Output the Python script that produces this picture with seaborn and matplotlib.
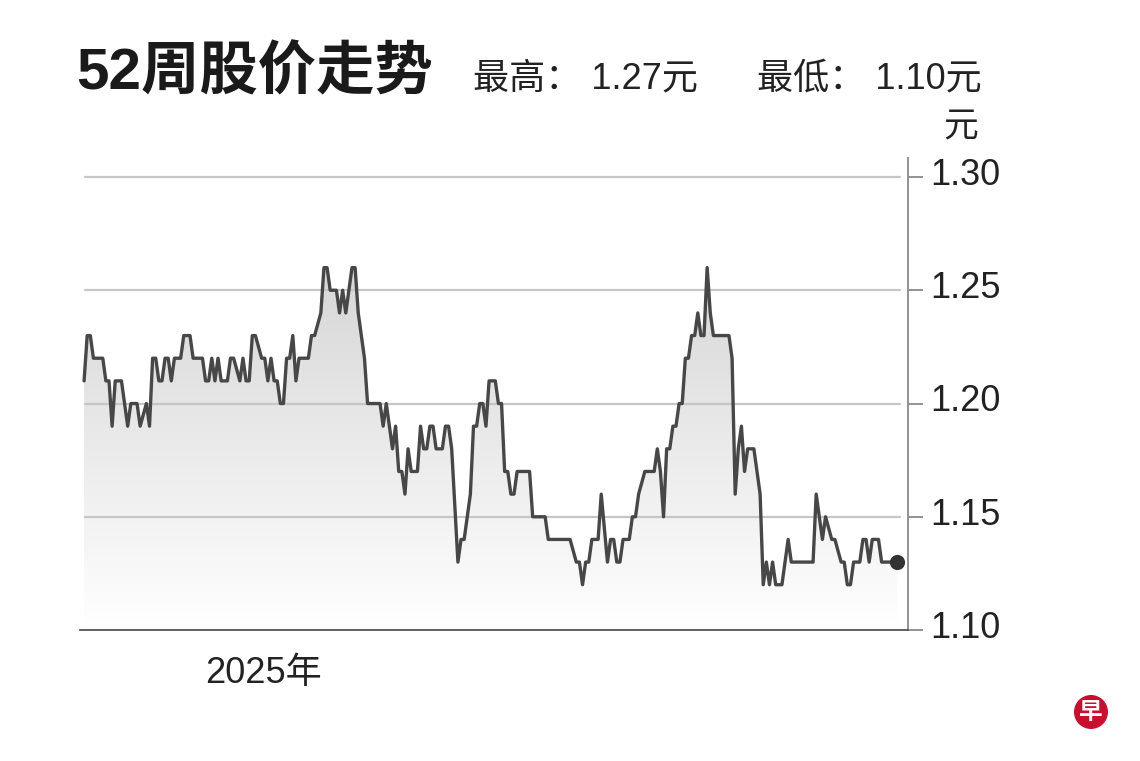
import matplotlib
matplotlib.use("Agg")
import matplotlib.pyplot as plt
import matplotlib.colors as mcolors
import matplotlib.patches as mpatches
import matplotlib.transforms as mtransforms
import numpy as np
import pandas as pd
import seaborn as sns

# session index (0 = 2024-10-21) and closing price, read at each turn of the line
trade_day = [
    0, 1, 2, 3, 6, 7, 8, 9, 10, 12,
    14, 15, 17, 18, 20, 21, 22, 23, 24, 25,
    26, 27, 28, 29, 31, 32, 34, 35, 38, 39,
    40, 41, 42, 43, 44, 46, 47, 48, 50, 51,
    52, 53, 54, 55, 57, 58, 59, 60, 61, 62,
    63, 64, 65, 66, 67, 68, 69, 72, 73, 74,
    76, 77, 78, 79, 81, 82, 83, 84, 86, 87,
    88, 89, 90, 91, 95, 96, 97, 99, 100, 101,
    102, 103, 104, 105, 107, 108, 109, 110, 111, 112,
    113, 115, 116, 117, 118, 120, 121, 122, 124, 125,
    126, 127, 128, 129, 130, 132, 133, 134, 135, 136,
    137, 138, 139, 143, 144, 148, 149, 156, 158, 159,
    160, 161, 162, 163, 165, 166, 168, 169, 170, 171,
    172, 173, 175, 176, 177, 178, 180, 183, 184, 185,
    186, 187, 188, 189, 190, 191, 192, 193, 194, 195,
    196, 197, 198, 199, 200, 201, 202, 207, 208, 209,
    210, 211, 212, 213, 215, 217, 218, 219, 220, 221,
    222, 224, 226, 227, 234, 235, 237, 238, 240, 241,
    243, 244, 245, 246, 247, 249, 250, 251, 252, 253,
    255, 256, 261,
]
close_price = [
    1.21, 1.23, 1.23, 1.22, 1.22, 1.21, 1.21, 1.19, 1.21, 1.21,
    1.19, 1.20, 1.20, 1.19, 1.20, 1.19, 1.22, 1.22, 1.21, 1.21,
    1.22, 1.22, 1.21, 1.22, 1.22, 1.23, 1.23, 1.22, 1.22, 1.21,
    1.21, 1.22, 1.21, 1.22, 1.21, 1.21, 1.22, 1.22, 1.21, 1.22,
    1.21, 1.21, 1.23, 1.23, 1.22, 1.22, 1.21, 1.22, 1.21, 1.21,
    1.20, 1.20, 1.22, 1.22, 1.23, 1.21, 1.22, 1.22, 1.23, 1.23,
    1.24, 1.26, 1.26, 1.25, 1.25, 1.24, 1.25, 1.24, 1.26, 1.26,
    1.24, 1.23, 1.22, 1.20, 1.20, 1.19, 1.20, 1.18, 1.19, 1.17,
    1.17, 1.16, 1.18, 1.17, 1.17, 1.19, 1.18, 1.18, 1.19, 1.19,
    1.18, 1.18, 1.19, 1.19, 1.18, 1.13, 1.14, 1.14, 1.16, 1.19,
    1.19, 1.20, 1.20, 1.19, 1.21, 1.21, 1.20, 1.20, 1.17, 1.17,
    1.16, 1.16, 1.17, 1.17, 1.15, 1.15, 1.14, 1.14, 1.13, 1.13,
    1.12, 1.13, 1.13, 1.14, 1.14, 1.16, 1.13, 1.14, 1.14, 1.13,
    1.13, 1.14, 1.14, 1.15, 1.15, 1.16, 1.17, 1.17, 1.18, 1.17,
    1.15, 1.18, 1.18, 1.19, 1.19, 1.20, 1.20, 1.22, 1.22, 1.23,
    1.23, 1.24, 1.23, 1.23, 1.26, 1.24, 1.23, 1.23, 1.22, 1.16,
    1.18, 1.19, 1.17, 1.18, 1.18, 1.16, 1.12, 1.13, 1.12, 1.13,
    1.12, 1.12, 1.14, 1.13, 1.13, 1.16, 1.14, 1.15, 1.14, 1.14,
    1.13, 1.13, 1.12, 1.12, 1.13, 1.13, 1.14, 1.14, 1.13, 1.14,
    1.14, 1.13, 1.13,
]

first_session = "2024-10-21"
n_sessions = 262
y_ticks = [1.10, 1.15, 1.20, 1.25, 1.30]
grid_levels = [1.15, 1.20, 1.25, 1.30]

title_text = "52周股价走势"
high_text = "最高： 1.27元"
low_text = "最低： 1.10元"
unit_text = "元"
year_label = "2025年"

sns.set_theme(style="white")
plt.rcParams["font.family"] = ["Liberation Sans", "Noto Sans CJK SC", "DejaVu Sans"]

df = pd.DataFrame({"day": trade_day, "price": close_price})
sessions = pd.bdate_range(first_session, periods=n_sessions)
df["date"] = sessions[df["day"]]
year_start = int(np.argmax(sessions.year == 2025))

fig = plt.figure(figsize=(11.4, 7.61), dpi=100)
ax = fig.add_axes([0.0702, 0.1721, 0.7261, 0.6203])

x_lo, x_hi = -1.3, 264.4
y_lo, y_hi = 1.10, 1.3084

# grey fade under the line
fill = ax.fill_between(df["day"], df["price"], y_lo, facecolor="none", edgecolor="none")
fade = mcolors.LinearSegmentedColormap.from_list("fade", ["#ffffff", "#d4d4d4"])
grad = np.linspace(1, 0, 256).reshape(-1, 1)
img = ax.imshow(grad, cmap=fade, aspect="auto", extent=[x_lo, x_hi, y_lo, 1.27],
                origin="upper", zorder=1, interpolation="bilinear")
img.set_clip_path(fill.get_paths()[0], transform=ax.transData)

for lv in grid_levels:
    ax.axhline(lv, xmin=0.006, xmax=0.991, color="#c6c6c6", linewidth=1.6, zorder=1.5)

sns.lineplot(data=df, x="day", y="price", ax=ax, color="#474747",
             linewidth=2.4, estimator=None, sort=False, zorder=3)
last = df.tail(1)
ax.scatter(last["day"], last["price"], s=120, color="#333333", zorder=4, linewidths=0)

ax.set_xlim(x_lo, x_hi)
ax.set_ylim(y_lo, y_hi)
ax.set_xlabel("")
ax.set_ylabel("")

for side in ["left", "top"]:
    ax.spines[side].set_visible(False)
ax.spines["right"].set_color("#8a8a8a")
ax.spines["right"].set_linewidth(1.3)
ax.spines["bottom"].set_color("#555555")
ax.spines["bottom"].set_linewidth(1.3)

ax.yaxis.tick_right()
ax.set_yticks(y_ticks)
ax.set_yticklabels([f"{v:.2f}" for v in y_ticks])
ax.tick_params(axis="y", length=11, width=1.3, color="#8a8a8a", pad=5,
               labelsize=26, labelcolor="#222222", direction="out")
lift = mtransforms.ScaledTranslation(0, 4 / 72, fig.dpi_scale_trans)
for lab in ax.get_yticklabels():
    lab.set_transform(lab.get_transform() + lift)

ax.set_xticks([year_start])
ax.set_xticklabels([])
ax.tick_params(axis="x", length=13, width=1.3, color="#555555", direction="out")
ax.annotate(year_label, xy=(year_start, 0), xycoords=("data", "axes fraction"),
            xytext=(12.5, -19), textcoords="offset points", ha="center", va="top",
            fontsize=26, color="#222222")

fig.text(76 / 1140, 1 - 89 / 761, title_text, fontsize=42, fontweight="bold",
         family=["Liberation Sans", "Noto Sans CJK SC"], color="#1a1a1a", va="baseline")
fig.text(473 / 1140, 1 - 88 / 761, high_text, fontsize=26, color="#222222", va="baseline")
fig.text(757 / 1140, 1 - 88 / 761, low_text, fontsize=26, color="#222222", va="baseline")
fig.text(961 / 1140, 1 - 127 / 761, unit_text, fontsize=25, color="#222222",
         ha="center", va="center")

# small red badge bottom right
badge = mpatches.Circle((10.91, 0.49), 0.17, transform=fig.dpi_scale_trans,
                        facecolor="#c8102e", edgecolor="none")
fig.add_artist(badge)
fig.text(1091 / 1140, 1 - 712 / 761, "早", fontsize=17, fontweight="bold",
         family=["Noto Sans CJK SC"], color="white", ha="center", va="center")

fig.savefig("out.png", dpi=100)
